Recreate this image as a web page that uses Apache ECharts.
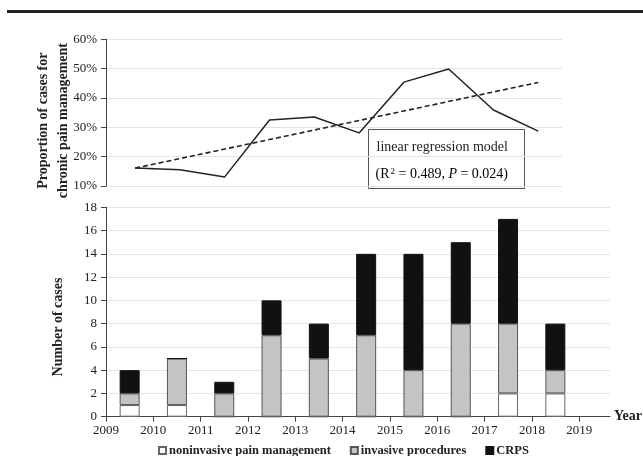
<!DOCTYPE html>
<html>
<head>
<meta charset="utf-8">
<script src="https://cdn.jsdelivr.net/npm/echarts@6/dist/echarts.min.js"></script>
<style>
  html, body { margin: 0; padding: 0; background: #fff; }
  #chart { width: 643px; height: 456px; }
</style>
</head>
<body>
<div id="chart"></div>
<script>
// Yearly case data
const years = [2009, 2010, 2011, 2012, 2013, 2014, 2015, 2016, 2017, 2018];
const proportion = [16.1, 15.5, 13.1, 32.5, 33.5, 28.1, 45.4, 49.9, 35.9, 28.7];
const trendStart = 16.1;
const trendEnd = 45.3;
const noninvasive = [1, 1, 0, 0, 0, 0, 0, 0, 2, 2];
const invasive = [1, 4, 2, 7, 5, 7, 4, 8, 6, 2];
const crps = [2, 0, 1, 3, 3, 7, 10, 7, 9, 4];
const yearTicks = [2009, 2010, 2011, 2012, 2013, 2014, 2015, 2016, 2017, 2018, 2019];

const FONT = "'Liberation Serif', 'Times New Roman', serif";
const INK = '#222';
const GRID_LINE = '#e4e4e4';

const chart = echarts.init(document.getElementById('chart'), null, { renderer: 'canvas' });

chart.setOption({
  animation: false,
  backgroundColor: '#fff',
  textStyle: { fontFamily: FONT },
  grid: [
    // proportion panel
    { left: 106, right: 81, top: 39.3, height: 146.7 },
    // case-count panel (axes, gridlines)
    { left: 106, right: 33, top: 207.3, bottom: 39.3 },
    // case-count bars: one band per year, 2009 to 2019
    { left: 106, right: 64, top: 207.3, bottom: 39.3 }
  ],
  xAxis: [
    {
      gridIndex: 0, type: 'value', min: 2008.35, max: 2018.53,
      show: false
    },
    {
      gridIndex: 1, type: 'value', min: 2009, max: 2019.65,
      axisLine: { lineStyle: { color: '#444', width: 1 } },
      axisTick: { customValues: yearTicks, length: 5, lineStyle: { color: '#444' } },
      axisLabel: {
        customValues: yearTicks, fontFamily: FONT, fontSize: 13, color: INK, margin: 7,
        formatter: (v) => String(v)
      },
      splitLine: { show: false },
      name: 'Year', nameLocation: 'end', nameGap: 4, nameMoveOverlap: false,
      nameTextStyle: { fontFamily: FONT, fontSize: 14, fontWeight: 'bold', color: INK, align: 'left', padding: [27, 0, 0, 0] }
    },
    {
      gridIndex: 2, type: 'category', data: years, boundaryGap: true,
      axisLine: { show: false }, axisTick: { show: false }, axisLabel: { show: false }
    }
  ],
  yAxis: [
    {
      gridIndex: 0, type: 'value', min: 10, max: 60, interval: 10,
      axisLine: { show: true, lineStyle: { color: '#444' } },
      axisTick: { show: true, length: 5, lineStyle: { color: '#444' } },
      axisLabel: { fontFamily: FONT, fontSize: 13, color: INK, margin: 9, formatter: '{value}%' },
      splitLine: { lineStyle: { color: GRID_LINE } },
      name: 'Proportion of cases for\nchronic pain management',
      nameLocation: 'middle', nameRotate: 90, nameGap: 33, nameMoveOverlap: false,
      nameTextStyle: { fontFamily: FONT, fontSize: 14, fontWeight: 'bold', color: INK, lineHeight: 20, padding: [0, 16, 0, 0] }
    },
    {
      gridIndex: 1, type: 'value', min: 0, max: 18, interval: 2,
      axisLine: { show: true, lineStyle: { color: '#444' } },
      axisTick: { show: true, length: 5, lineStyle: { color: '#444' } },
      axisLabel: { fontFamily: FONT, fontSize: 13, color: INK, margin: 9 },
      splitLine: { lineStyle: { color: GRID_LINE } },
      name: 'Number of cases',
      nameLocation: 'middle', nameRotate: 90, nameGap: 41, nameMoveOverlap: false,
      nameTextStyle: { fontFamily: FONT, fontSize: 14, fontWeight: 'bold', color: INK, padding: [0, 30, 0, 0] }
    },
    {
      gridIndex: 2, type: 'value', min: 0, max: 18, show: false
    }
  ],
  legend: {
    left: 153, top: 439, itemWidth: 7, itemHeight: 7, itemGap: 19,
    icon: 'rect',
    textStyle: { fontFamily: FONT, fontSize: 12.5, fontWeight: 'bold', color: INK, padding: [0, 0, 0, -2] },
    data: ['noninvasive pain management', 'invasive procedures', 'CRPS']
  },
  series: [
    {
      name: 'proportion', type: 'line', xAxisIndex: 0, yAxisIndex: 0,
      data: proportion.map((v, i) => [years[i], v]),
      symbol: 'none', lineStyle: { color: INK, width: 1.5 }
    },
    {
      name: 'trend', type: 'line', xAxisIndex: 0, yAxisIndex: 0,
      data: [[years[0], trendStart], [years[years.length - 1], trendEnd]],
      symbol: 'none', lineStyle: { color: INK, width: 1.6, type: [5, 3] }
    },
    {
      name: 'noninvasive pain management', type: 'bar', xAxisIndex: 2, yAxisIndex: 2,
      stack: 'cases', barWidth: 20, data: noninvasive,
      itemStyle: { color: '#ffffff', borderColor: '#666', borderWidth: 1 }
    },
    {
      name: 'invasive procedures', type: 'bar', xAxisIndex: 2, yAxisIndex: 2,
      stack: 'cases', barWidth: 20, data: invasive,
      itemStyle: { color: '#c4c4c4', borderColor: '#555', borderWidth: 1 }
    },
    {
      name: 'CRPS', type: 'bar', xAxisIndex: 2, yAxisIndex: 2,
      stack: 'cases', barWidth: 20, data: crps,
      itemStyle: { color: '#111', borderColor: '#111', borderWidth: 1 }
    }
  ],
  graphic: [
    // rule across the top of the figure
    { type: 'rect', left: 7, top: 10, shape: { width: 636, height: 3 }, style: { fill: '#222' }, silent: true },
    // regression annotation box
    {
      type: 'group', left: 368, top: 129,
      children: [
        { type: 'rect', shape: { x: 0, y: 0, width: 156, height: 59 }, style: { fill: '#fff', stroke: '#555', lineWidth: 1 } },
        {
          type: 'text', x: 8, y: 18,
          style: { text: 'linear regression model', font: "14px 'Liberation Serif', serif", fill: INK, verticalAlign: 'middle' }
        },
        {
          type: 'text', x: 7, y: 45,
          style: {
            text: '{a|(R}{s|2}{a| = 0.489, }{i|P}{a| = 0.024)}',
            verticalAlign: 'middle',
            rich: {
              a: { fontFamily: FONT, fontSize: 14, color: INK },
              s: { fontFamily: FONT, fontSize: 9, color: INK, verticalAlign: 'top', padding: [0, 0, 6, 1] },
              i: { fontFamily: FONT, fontSize: 14, fontStyle: 'italic', color: INK }
            }
          }
        }
      ]
    }
  ]
});
</script>
</body>
</html>
